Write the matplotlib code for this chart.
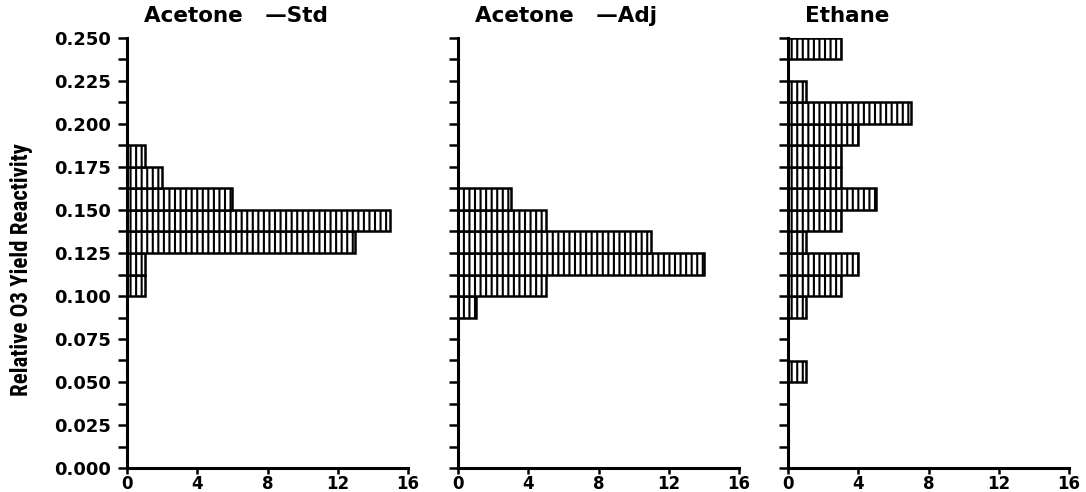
import matplotlib
matplotlib.use("Agg")
import matplotlib.pyplot as plt
from matplotlib.ticker import MultipleLocator, FixedLocator

plt.rcParams['font.family'] = ['DejaVu Sans']
plt.rcParams['hatch.linewidth'] = 1.5
plt.rcParams['hatch.color'] = 'black'

# Lower edge of each reactivity bin (bin width 0.0125)
bin_starts = [0.0000, 0.0125, 0.0250, 0.0375, 0.0500, 0.0625, 0.0750, 0.0875,
              0.1000, 0.1125, 0.1250, 0.1375, 0.1500, 0.1625, 0.1750, 0.1875,
              0.2000, 0.2125, 0.2250, 0.2375]
bin_width = 0.0125

# Frequency counts per bin
acetone_std = [0, 0, 0, 0, 0, 0, 0, 0, 1, 1, 13, 15, 6, 2, 1, 0, 0, 0, 0, 0]
acetone_adj = [0, 0, 0, 0, 0, 0, 0, 1, 5, 14, 11, 5, 3, 0, 0, 0, 0, 0, 0, 0]
ethane = [0, 0, 0, 0, 1, 0, 0, 1, 3, 4, 1, 3, 5, 3, 3, 4, 7, 1, 0, 3]

panel_titles = ["Acetone   \u2014Std", "Acetone   \u2014Adj", "Ethane"]
panel_counts = [acetone_std, acetone_adj, ethane]

x_ticks = [0, 4, 8, 12, 16]
y_major = [0.000, 0.025, 0.050, 0.075, 0.100, 0.125, 0.150, 0.175, 0.200, 0.225, 0.250]
y_label = "Relative O3 Yield Reactivity"

W, H = 1086, 492
fig = plt.figure(figsize=(W / 100, H / 100), dpi=100)

lefts = [127, 458, 788]
ax_w = 281
ax_bottom = 24
ax_h = 430

for i, (title, counts) in enumerate(zip(panel_titles, panel_counts)):
    ax = fig.add_axes([lefts[i] / W, ax_bottom / H, ax_w / W, ax_h / H])
    ax.barh(bin_starts, counts, height=bin_width, align='edge',
            facecolor='white', edgecolor='black', linewidth=1.8, hatch='|||')
    ax.set_xlim(0, 16)
    ax.set_ylim(0, 0.25)
    for side in ('top', 'right'):
        ax.spines[side].set_visible(False)
    for side in ('left', 'bottom'):
        ax.spines[side].set_linewidth(2.2)
    ax.xaxis.set_major_locator(FixedLocator(x_ticks))
    ax.yaxis.set_major_locator(FixedLocator(y_major))
    ax.yaxis.set_minor_locator(MultipleLocator(0.0125))
    ax.tick_params(axis='both', which='both', direction='out', width=1.8, color='black')
    ax.tick_params(axis='y', which='both', length=6.5, pad=5)
    ax.tick_params(axis='x', which='major', length=4.5, pad=0.2)
    ax.set_xticklabels([str(v) for v in x_ticks], fontsize=12, fontweight='bold')
    if i == 0:
        ax.set_yticklabels([f"{v:.3f}" for v in y_major], fontsize=13, fontweight='bold')
    else:
        ax.set_yticklabels([])
    ax.text(17 / ax_w, 1.0 + 16 / ax_h, title, transform=ax.transAxes,
            ha='left', va='baseline', fontsize=15.5, fontweight='bold')
    ax.patch.set_alpha(0)

fig.text(22 / W, 1 - 270 / H, y_label, rotation=90, ha='center', va='center',
         fontsize=16.5, fontweight='bold', fontstretch='condensed',
         family=['Liberation Sans Narrow', 'Roboto Condensed', 'DejaVu Sans'])

fig.savefig("out.png", dpi=100)
